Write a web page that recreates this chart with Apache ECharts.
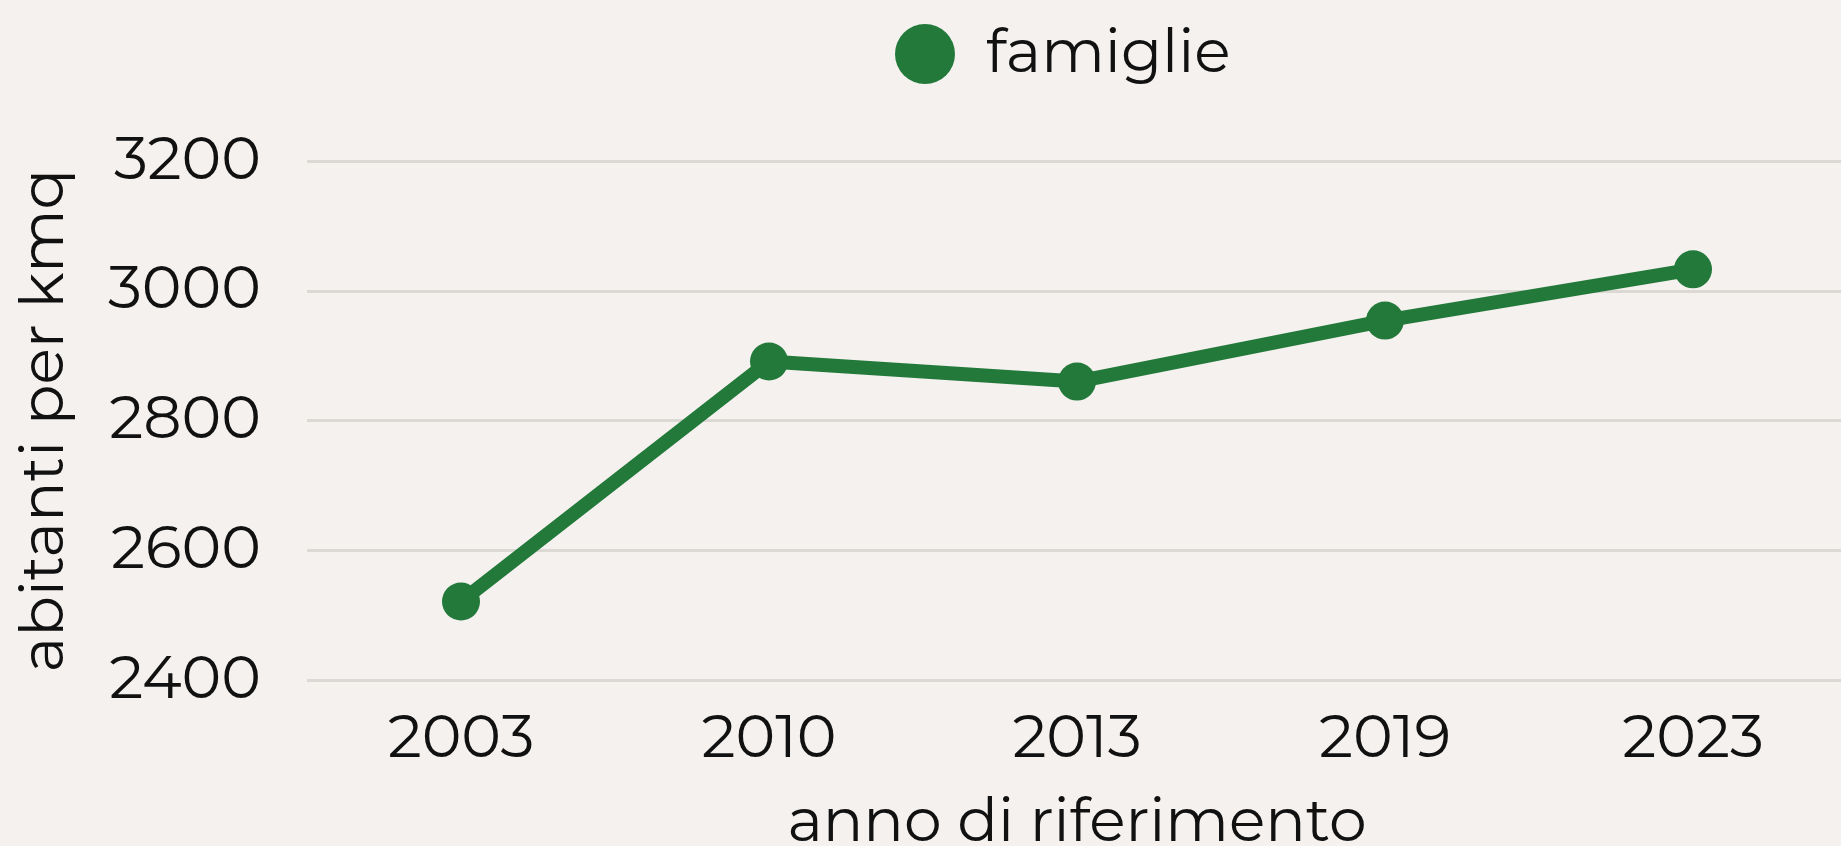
<!DOCTYPE html>
<html>
<head>
<meta charset="utf-8">
<script src="https://cdn.jsdelivr.net/npm/echarts@6/dist/echarts.min.js"></script>
<style>
  html, body { margin: 0; padding: 0; background: #f4f1ee; }
  #chart { width: 1841px; height: 846px; }
</style>
</head>
<body>
<div id="chart"></div>
<script>
var anni = ['2003', '2010', '2013', '2019', '2023'];
var famiglie = [2521, 2891, 2860, 2954, 3033];
var yMin = 2400, yMax = 3200, yStep = 200;

var verde = '#22793a';
var font = 'Montserrat, "Noto Sans", sans-serif';

var myChart = echarts.init(document.getElementById('chart'));
var option = {
    backgroundColor: '#f4f1ee',
    textStyle: { fontFamily: font, color: '#111' },
    legend: {
        left: 890,
        top: 19,
        itemWidth: 60,
        itemHeight: 60,
        icon: 'circle',
        textStyle: { fontSize: 60, color: '#111', padding: [0, 0, 0, 26] },
        data: ['famiglie']
    },
    grid: { left: 307, right: -6, top: 161, bottom: 166, outerBoundsMode: 'none' },
    xAxis: {
        type: 'category',
        data: anni,
        name: 'anno di riferimento',
        nameLocation: 'middle',
        nameGap: 113,
        nameTextStyle: { fontSize: 60, color: '#111' },
        axisLine: { show: false },
        axisTick: { show: false },
        axisLabel: { fontSize: 60, color: '#111', margin: 29 }
    },
    yAxis: {
        type: 'value',
        min: yMin,
        max: yMax,
        interval: yStep,
        name: 'abitanti per kmq',
        nameLocation: 'middle',
        nameGap: 232,
        nameTextStyle: { fontSize: 60, color: '#111' },
        axisLine: { show: false },
        axisTick: { show: false },
        axisLabel: {
            fontSize: 60, color: '#111', margin: 46,
            formatter: function (v) { return String(v); }
        },
        splitLine: { lineStyle: { color: '#dcd8d4', width: 3 } }
    },
    series: [{
        name: 'famiglie',
        type: 'line',
        data: famiglie,
        symbol: 'circle',
        symbolSize: 38,
        color: verde,
        lineStyle: { width: 14, color: verde },
        itemStyle: { color: verde }
    }]
};
myChart.setOption(option);
</script>
</body>
</html>
